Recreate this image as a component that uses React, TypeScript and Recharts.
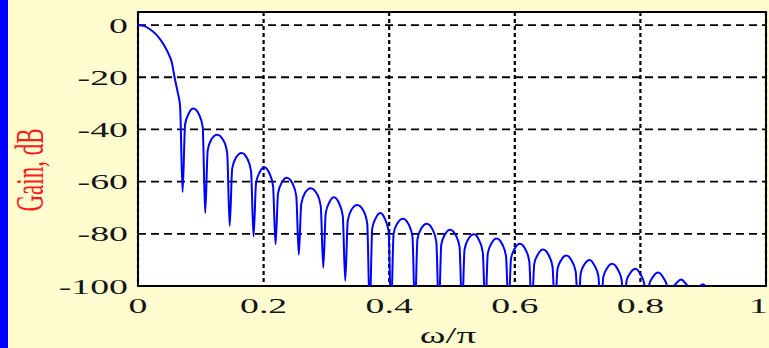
import {
  LineChart,
  Line,
  XAxis,
  YAxis,
  CartesianGrid,
  ReferenceArea,
  Label,
} from "recharts";

// axis ticks
const xTicks = [0, 0.2, 0.4, 0.6, 0.8, 1];
const yTicks = [0, -20, -40, -60, -80, -100];

// normalized frequency (omega / pi)
const omega = [
  0, 0.01, 0.019, 0.028, 0.035, 0.042, 0.048, 0.054, 0.058, 0.063, 0.067, 0.071,
  0.075, 0.081, 0.088, 0.097, 0.103, 0.107,
  0.111, 0.117, 0.126, 0.136, 0.142, 0.146,
  0.15, 0.156, 0.165, 0.174, 0.18, 0.184,
  0.188, 0.194, 0.201, 0.209, 0.215, 0.219,
  0.223, 0.229, 0.237, 0.246, 0.252, 0.256,
  0.26, 0.266, 0.275, 0.285, 0.291, 0.295,
  0.299, 0.305, 0.312, 0.32, 0.326, 0.33,
  0.334, 0.34, 0.349, 0.359, 0.365, 0.369,
  0.373, 0.379, 0.386, 0.393, 0.399, 0.403,
  0.407, 0.413, 0.422, 0.431, 0.437, 0.441,
  0.445, 0.451, 0.46, 0.469, 0.475, 0.479,
  0.483, 0.489, 0.497, 0.506, 0.512, 0.516,
  0.52, 0.526, 0.535, 0.543, 0.549, 0.553,
  0.557, 0.563, 0.571, 0.58, 0.586, 0.59,
  0.594, 0.6, 0.608, 0.617, 0.623, 0.627,
  0.631, 0.637, 0.645, 0.654, 0.66, 0.664,
  0.668, 0.674, 0.682, 0.691, 0.697, 0.701,
  0.705, 0.711, 0.719, 0.727, 0.733, 0.737,
  0.741, 0.747, 0.755, 0.764, 0.77, 0.774,
  0.778, 0.784, 0.792, 0.8, 0.806, 0.81,
  0.814, 0.82, 0.828, 0.837, 0.843, 0.847,
  0.851, 0.857, 0.865, 0.873, 0.879, 0.883,
  0.893, 0.9, 0.906,
];

// gain in dB at the points above
const gainDb = [
  0, -0.4, -1.6, -3.4, -5.4, -7.9, -10.7, -14.5, -19.7, -25.5, -31, -64,
  -38, -33.8, -32, -34.2, -39, -72,
  -48, -43.8, -42, -44.2, -49, -77,
  -55, -50.8, -49, -51.2, -56, -81,
  -60.5, -56.3, -54.5, -56.7, -61.5, -84,
  -64.5, -60.3, -58.5, -60.7, -65.5, -88,
  -68.5, -64.3, -62.5, -64.7, -69.5, -93,
  -72, -67.8, -66, -68.2, -73, -98,
  -75, -70.8, -69, -71.2, -76, -110,
  -78, -73.8, -72, -74.2, -79, -110,
  -80, -76, -74.2, -76.4, -81, -110,
  -82, -78, -76.1, -78.3, -83, -110,
  -84, -80.2, -78.4, -80.6, -85, -110,
  -86, -82, -80.2, -82.4, -87, -110,
  -87.5, -83.6, -81.8, -84, -88.5, -110,
  -89.5, -85.6, -83.8, -86, -90.5, -110,
  -91.5, -87.8, -86, -88.2, -92.5, -110,
  -93.5, -90, -88.3, -90.5, -94.5, -110,
  -95, -91.7, -90, -92.2, -96, -110,
  -96.5, -93.2, -91.5, -93.7, -97.5, -110,
  -98, -95, -93.4, -95.5, -99, -110,
  -99.5, -96.5, -94.8, -97, -100.5, -110,
  -101, -99, -97.5, -99.3, -101, -110,
  -100.5, -99.3, -101,
];

const data = omega.map((w, i) => ({ w, gain: gainDb[i] }));

const FONT = '"Liberation Serif", "DejaVu Serif", serif';
const STRETCH = 1.8;
const INK = "#151515";

const YTick = (props: any) => {
  const { x, y, payload } = props;
  return (
    <text
      transform={`translate(${x},${y + 7.5}) scale(${STRETCH},1)`}
      textAnchor="end"
      fontFamily={FONT}
      fontSize={21}
      fill={INK}
    >
      {payload.value}
    </text>
  );
};

const XTick = (props: any) => {
  const { x, y, payload } = props;
  // the last label sits against the right edge of the picture
  const last = payload.value === 1;
  return (
    <text
      transform={`translate(${last ? 768 : x},${y + 19}) scale(${STRETCH},1)`}
      textAnchor={last ? "end" : "middle"}
      fontFamily={FONT}
      fontSize={21}
      fill={INK}
    >
      {payload.value}
    </text>
  );
};

const YLabel = (props: any) => {
  const vb = props.viewBox || { x: 0, y: 12, height: 273 };
  const cx = vb.x + 43;
  const cy = vb.y + vb.height / 2 + 21;
  return (
    <text
      transform={`translate(${cx},${cy}) scale(1.7,1) rotate(-90)`}
      textAnchor="middle"
      fontFamily={FONT}
      fontSize={23}
      fill="#ff1a1a"
    >
      Gain, dB
    </text>
  );
};

const XLabel = (props: any) => {
  const vb = props.viewBox || { x: 138, y: 285, width: 628 };
  const cx = vb.x + vb.width / 2 - 4;
  return (
    <text
      transform={`translate(${cx},343) scale(1.7,1)`}
      textAnchor="middle"
      fontFamily={FONT}
      fontSize={23}
      fill={INK}
    >
      ω/π
    </text>
  );
};

export default function App() {
  return (
    <div
      style={{
        position: "fixed",
        left: 0,
        top: 0,
        width: 769,
        height: 348,
        background: "#fffdd0",
        overflow: "hidden",
      }}
    >
      <div
        style={{
          position: "absolute",
          left: 0,
          top: 0,
          width: 8,
          height: 348,
          background: "#0000ff",
          zIndex: 2,
        }}
      />
      <LineChart
        width={769}
        height={348}
        data={data}
        margin={{ top: 12, right: 3, bottom: 0, left: 0 }}
      >
        <CartesianGrid
          horizontal
          vertical={false}
          stroke="#000"
          strokeWidth={1.8}
          strokeDasharray="8 5"
          fill="#ffffff"
          fillOpacity={1}
        />
        <CartesianGrid
          horizontal={false}
          vertical
          stroke="#000"
          strokeWidth={2.2}
          strokeDasharray="4 3"
        />
        <XAxis
          dataKey="w"
          type="number"
          domain={[0, 1]}
          ticks={xTicks}
          height={62}
          axisLine={false}
          tickLine={false}
          tick={<XTick />}
          interval={0}
        >
          <Label content={<XLabel />} />
        </XAxis>
        <YAxis
          type="number"
          domain={[-100, 5]}
          ticks={yTicks}
          width={138}
          allowDataOverflow
          axisLine={false}
          tickLine={false}
          tickMargin={4}
          tick={<YTick />}
          interval={0}
        >
          <Label content={<YLabel />} />
        </YAxis>
        <Line
          type="monotone"
          dataKey="gain"
          stroke="#0000ff"
          strokeWidth={2}
          dot={false}
          isAnimationActive={false}
        />
        <ReferenceArea
          x1={0}
          x2={1}
          y1={-100}
          y2={5}
          fill="none"
          stroke="#000"
          strokeWidth={2}
        />
      </LineChart>
    </div>
  );
}
